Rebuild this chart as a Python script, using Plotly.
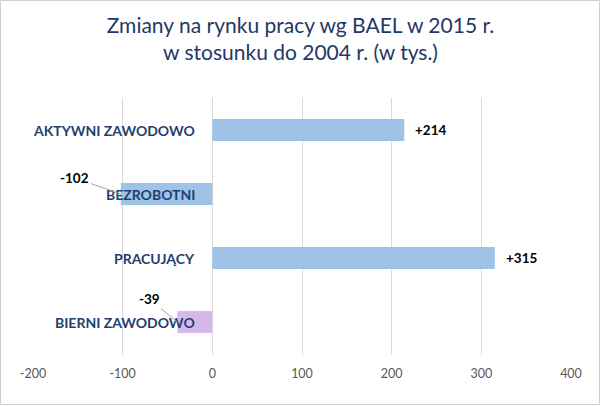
import plotly.graph_objects as go

categories = ["AKTYWNI ZAWODOWO", "BEZROBOTNI", "PRACUJĄCY", "BIERNI ZAWODOWO"]
values = [214, -102, 315, -39]
colors = ["#9DC3E6", "#9DC3E6", "#9DC3E6", "#D5B9EA"]
tick_vals = [-200, -100, 0, 100, 200, 300, 400]
tick_text = ["-200", "-100", "0", "100", "200", "300", "400"]

W, H = 601, 406
ml, mr, mt, mb = 33, 30, 98, 51

fig = go.Figure()
fig.add_trace(go.Bar(
    y=categories, x=values, orientation="h",
    marker=dict(color=colors, line=dict(width=0)),
    width=0.345,
    hoverinfo="skip",
))

annotations = []
for c in categories:
    annotations.append(dict(
        x=0, y=c, xref="x", yref="y", text="<b>%s</b>" % c,
        showarrow=False, xanchor="right", yanchor="middle", xshift=-15,
        font=dict(family="Lato", size=14, color="#1F3F6E"),
    ))
# data labels; negative ones with leader lines
offsets = {"BEZROBOTNI": (-46, -16), "BIERNI ZAWODOWO": (-28, -23)}
for c, v in zip(categories, values):
    if v > 0:
        annotations.append(dict(
            x=v, y=c, xref="x", yref="y", text="<b>+%d</b>" % v,
            showarrow=False, xanchor="left", yanchor="middle", xshift=9,
            font=dict(family="Lato", size=13.5, color="#000000"),
        ))
    else:
        ax, ay = offsets[c]
        annotations.append(dict(
            x=v, y=c, xref="x", yref="y", text="<b>%d</b>" % v,
            showarrow=True, arrowhead=0, arrowwidth=1, arrowcolor="#A6A6A6",
            ax=ax, ay=ay, standoff=0,
            font=dict(family="Lato", size=13.5, color="#000000"),
        ))

pw = W - ml - mr
ph = H - mt - mb
fig.add_shape(type="rect", xref="paper", yref="paper",
              x0=-ml / pw + 0.5 / pw, x1=1 + (mr - 1.5) / pw,
              y0=-mb / ph + 1.5 / ph, y1=1 + (mt - 0.5) / ph,
              line=dict(color="#D0D0D0", width=1), fillcolor="rgba(0,0,0,0)", layer="below")

fig.update_layout(
    width=W, height=H,
    margin=dict(l=ml, r=mr, t=mt, b=mb, pad=0, autoexpand=False),
    paper_bgcolor="white", plot_bgcolor="white",
    showlegend=False,
    title=dict(text="Zmiany na rynku pracy wg BAEL w 2015 r.<br>w stosunku do 2004 r. (w tys.)",
               x=0.5, xanchor="center", yref="container", y=1 - 33 / H, yanchor="top",
               font=dict(family="Lato", size=21, color="#1F3864")),
    xaxis=dict(range=[-200, 400], tickvals=tick_vals, ticktext=tick_text, showgrid=True,
               gridcolor="#D9D9D9", gridwidth=1, zeroline=False, showline=False, ticks="",
               automargin=False, tickfont=dict(family="Lato", size=12.5, color="#595959"),
               ticklen=0, ticklabelstandoff=9),
    yaxis=dict(categoryorder="array", categoryarray=categories, autorange="reversed",
               showticklabels=False, showgrid=False, zeroline=False, showline=False,
               automargin=False),
    annotations=annotations,
)

fig.write_html("out.html", config={"displayModeBar": False},
               post_script="document.body.style.margin='0';document.body.style.overflow='hidden';")
